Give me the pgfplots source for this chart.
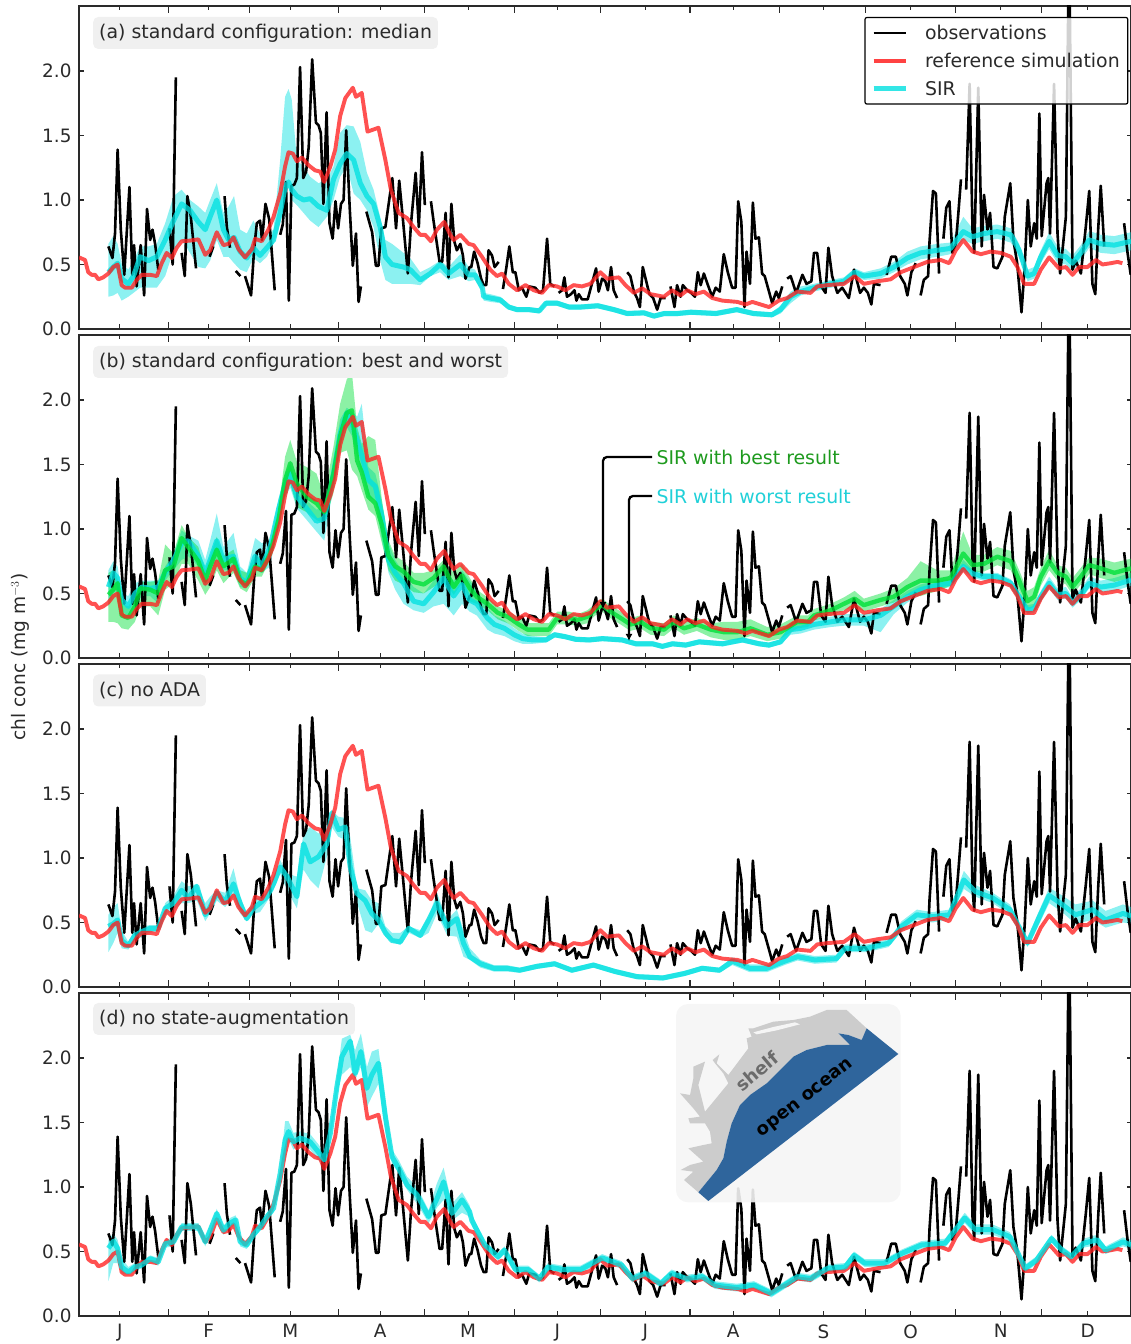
\documentclass[border=0pt]{standalone}
\usepackage{fontspec}
\setmainfont{DejaVu Sans}
\usepackage{pgfplots}
\usepackage{pgfplotstable}
\pgfplotsset{compat=1.18}
\usepgfplotslibrary{fillbetween}
\usetikzlibrary{arrows.meta}
\definecolor{sircyan}{HTML}{00E0E0}
\definecolor{sirgreen}{HTML}{00E038}
\definecolor{refred}{HTML}{FF2020}
\definecolor{ink}{HTML}{2A2A2A}
\definecolor{lab}{HTML}{F0F0F0}
\definecolor{oceanblue}{HTML}{2F659C}
\definecolor{txtgreen}{HTML}{1E9A1E}
\definecolor{txtcyan}{HTML}{20D0D8}
\pgfplotstableread{
d v
10.2 .64
11.6 .55
12.5 .74
13.4 1.39
14.5 .77
15.7 .42
17.5 1.10
18.5 .42
19.1 .65
20.0 .33
21.4 .65
22.6 .26
23.6 .93
24.7 .69
25.5 .77
26.4 .66
27.5 .46
28 nan
31.4 .78
32.5 .50
33.6 1.95
34.5 nan
35.6 .59
36.7 .41
37.6 1.03
38.8 .87
40.6 .47
42 nan
45.3 .56
46.6 .64
48 nan
50.5 1.03
51.3 .79
52.4 .63
53 nan
54.4 .45
56.0 .41
56.8 nan
57.6 .41
59.7 .26
60.8 .63
61.7 .82
62.8 .84
63.5 .69
64.7 .97
66 .85
66.9 .59
67.9 .30
68.5 nan
69.8 .73
70.7 .81
71.8 1.14
72.8 .22
73.7 1.11
74.7 1.12
75.6 1.17
76.7 2.03
77.8 1.17
78.8 1.22
79.7 1.41
80.9 2.09
82.2 1.60
83.1 1.58
83.9 1.52
84.8 .97
85.9 1.68
86.9 .82
88 .70
89 .99
89.9 .78
90.9 .97
91.8 1.0
92.7 1.54
93.9 .95
95 .49
96.1 .74
97 .21
97.8 .33
98.5 nan
99.7 .91
100.7 .83
101.7 .75
103 .49
103.9 .49
104.9 .78
106.3 .79
108.7 1.17
110 .78
111.1 1.15
112.3 .87
114.1 .43
115.2 .82
116.8 1.21
117.9 .79
119 1.37
120 .96
121 nan
122.1 .99
123 .84
125.1 .52
126 .52
127.2 .90
128.2 .40
129.2 .97
130.2 .68
131.1 .61
132.3 .66
133.2 .57
134.1 .39
135.5 .48
136.1 .48
137.1 .60
138.3 .51
139.5 .39
140.4 .34
141.3 .34
142.1 .61
143.3 .57
144.2 .48
145.6 .52
146.3 nan
147.1 .31
148.3 .48
149.3 .64
150.5 .44
151.4 .44
152.6 .30
153.7 .32
155.2 .25
156.2 .33
158.3 .32
159.8 .28
161 .30
162.4 .70
163.5 .35
164.9 .33
165.6 nan
166.4 .28
167.6 .30
168.4 .40
169.3 .25
170.7 .27
171.9 .30
172.6 .22
173.4 .27
174.5 .23
176.5 .23
177.7 .33
179.4 .47
180.3 .29
181.5 .39
182.6 .37
183.5 .30
184.6 .48
185.5 .30
186.7 .24
188 nan
190.2 .44
191.3 .41
192.5 .29
193.6 .24
194.6 .17
195.6 .48
196.8 .37
197.9 .27
199.2 .24
200.6 .15
201.8 .24
203.5 .24
204.3 nan
205.2 .33
206.6 .17
207.5 .34
208.7 .25
209.5 .34
211 .30
212.4 .28
213.7 .25
214.7 .44
215.7 .34
216.8 .43
218.2 .34
219.7 .25
220.9 .32
222.3 .29
223.7 .58
225.1 .44
226.6 .32
227.8 .32
228.7 .99
229.8 .83
230.9 .17
231.6 .60
232.8 .35
233.8 .98
234.7 .70
235.9 .71
237 .43
237.9 .41
239.4 .29
240.5 .20
241.9 .29
242.8 .24
244 .33
244.8 nan
245.7 .39
246.9 .41
248.8 .28
251 .42
252.4 .35
254.1 .37
255 .59
256.1 .59
257.5 .33
259 .28
260 .63
261.3 .41
263.1 .28
264.8 .32
267.1 .24
268.9 .46
271 .28
272.3 .32
273.7 .28
274.9 .19
275.8 .35
278.1 .34
279 nan
280.2 .42
281.8 .56
283.4 .56
284.9 .41
286.5 .35
287.4 .26
288.8 .44
290.3 .51
291 nan
292 .26
293.1 .38
294.6 .41
295.1 .68
296.3 1.07
297.3 1.05
298.4 .43
299 nan
299.9 .70
300.9 .94
302 .99
303.0 .59
304.2 .66
305.1 .90
306 1.16
307 nan
307.8 1.08
309 1.90
310 .77
310.6 .59
312 1.87
313.2 .64
314 1.04
315.2 .77
316.1 .90
317.3 .48
318.6 .47
320.4 .56
321.2 .87
323.1 1.13
324.2 .69
325.5 .51
327 .13
328.1 .48
329.2 1.0
330.2 .64
331.4 .82
332.3 .70
333.2 1.67
334 .72
335.7 1.13
336.3 1.17
336.9 .74
338.3 1.90
339.5 .74
340.4 .43
342.4 .87
343.5 3.07
344.7 .46
345.8 .53
347.6 .43
349.3 .79
350.5 1.07
351.6 .35
352.6 .27
353.6 .77
354.5 1.11
355.7 .64
358 nan
362.6 .82
363.8 .59
364.9 .42
}\obsdata
\pgfplotstableread{
d v
0 .555
2.1 .535
3.2 .44
4.4 .42
5.6 .42
6.7 .385
8.4 .40
10.2 .43
11.9 .48
13.4 .50
14.8 .34
16 .32
18.3 .32
20 .38
21.8 .42
24.7 .42
27 .41
28.7 .51
30.4 .59
32.2 .55
33.9 .63
35.6 .68
38.5 .685
41.4 .695
43.8 .575
45.5 .61
47.8 .75
50.1 .65
51.9 .66
53.6 .71
55.3 .62
57.6 .555
60 .62
61.1 .70
63.4 .68
65.7 .77
67.5 .87
69.8 1.05
71.5 1.26
72.7 1.37
74.2 1.36
75.6 1.30
77.3 1.33
79.6 1.27
81.9 1.23
83.7 1.22
85.1 1.14
87.2 1.26
88.9 1.39
90.6 1.65
92.4 1.79
95 1.87
96.1 1.80
98.1 1.83
100.1 1.53
103.9 1.56
106.3 1.31
108.2 1.08
110.9 .90
113.8 .86
116.1 .79
118.4 .73
120.1 .73
122.1 .68
124.2 .77
126.7 .83
128.8 .73
130 .69
132.3 .73
135.2 .66
136.9 .65
139.8 .56
142.7 .46
145 .41
146.8 .43
149.1 .35
152 .30
154.9 .34
157.8 .30
160.7 .28
163 .34
165.9 .33
168.7 .30
171.6 .34
174.5 .33
177.4 .35
180.9 .44
183.2 .39
187.3 .40
189.6 .34
192.5 .28
195.4 .315
198.3 .27
202.9 .25
205.8 .30
208.7 .26
211 .30
213.9 .27
216.8 .29
219.7 .24
223.2 .22
228.4 .21
231.3 .19
233.6 .21
239.4 .17
242.8 .22
245.7 .24
249.2 .29
253.8 .28
256.1 .33
259.6 .34
265.4 .35
269.1 .41
272.3 .35
277 .37
281.6 .385
285.1 .44
289.7 .48
294.3 .52
299 .535
301.9 .51
304.2 .61
306.8 .69
310 .60
312.9 .58
316.3 .60
319.8 .59
323.3 .56
325.6 .48
327.9 .35
331.4 .35
333.7 .46
336.6 .555
340 .47
342.4 .48
344.7 .42
347 .48
349.9 .48
352.8 .535
355.1 .50
358 .51
360.3 .52
362 .51
}\refdata
\pgfplotstableread{
d lo med hi
10.2 .25 .44 .66
11.9 .26 .48 .72
13.4 .28 .51 .66
14.8 .22 .39 .51
17.1 .25 .35 .46
18.9 .28 .41 .53
21.2 .32 .56 .64
24.1 .32 .53 .64
27 .32 .56 .66
29.9 .41 .69 .82
32.8 .61 .84 1.03
35.6 .69 .97 1.08
38.5 .59 .92 1.0
41.4 .48 .83 .95
43.8 .47 .77 .90
45.5 .53 .87 1.0
47.8 .69 1.0 1.13
50.1 .56 .77 .90
51.9 .56 .69 .95
53.8 .51 .71 1.03
55.9 .46 .60 .77
58.2 .44 .55 .74
60.5 .55 .63 .84
62.8 .51 .57 .74
65.2 .56 .63 .74
67.5 .66 .69 .77
69.8 .82 .90 1.31
71.5 1.03 1.10 1.80
72.7 1.10 1.14 1.86
73.8 1.0 1.08 1.78
75.6 .96 1.03 1.31
77.9 .90 1.0 1.26
80.2 .84 1.01 1.18
83.1 .79 .95 1.13
86 .87 .92 1.16
88.3 1.0 1.16 1.26
90.6 1.18 1.28 1.52
92.9 1.26 1.36 1.58
95.3 1.05 1.31 1.57
97.6 1.0 1.13 1.45
99.9 .92 1.03 1.21
102.2 .79 .97 1.08
104.5 .53 .79 .87
106.3 .38 .56 .69
108.6 .35 .50 .66
112.6 .35 .48 .59
114.9 .35 .46 .55
118.4 .34 .38 .44
121.9 .41 .43 .48
125.3 .44 .50 .53
128.2 .38 .43 .48
132.3 .41 .50 .58
135.2 .37 .42 .48
137.4 .38 .42 .46
140 .29 .315 .34
140.4 .22 .25 .28
142.7 .21 .24 .27
146.2 .20 .225 .25
149.1 .15 .17 .19
152 .13 .15 .17
156.2 .13 .15 .17
159.7 .12 .14 .16
162 .18 .20 .22
165.9 .18 .20 .22
170 .15 .17 .19
174 .15 .17 .19
180 .16 .18 .20
185.6 .13 .15 .17
190.2 .10 .12 .14
196 .105 .125 .145
199.5 .08 .10 .12
203.1 .10 .12 .14
207.7 .10 .12 .14
212.3 .11 .13 .15
221 .10 .12 .14
228.2 .13 .15 .17
234 .10 .12 .14
240.4 .09 .11 .13
243.4 .12 .15 .18
246.9 .20 .25 .29
250.4 .26 .29 .33
255 .29 .32 .35
260.8 .32 .35 .38
265.4 .34 .37 .40
269.1 .41 .44 .47
272.3 .38 .41 .44
278.1 .39 .43 .47
282.7 .44 .48 .52
287.4 .50 .55 .60
292 .54 .59 .64
297.8 .56 .61 .66
302.4 .58 .625 .67
306.8 .69 .755 .87
310 .66 .715 .78
314 .68 .74 .80
318.6 .70 .755 .81
323.3 .67 .73 .78
326.2 .56 .61 .66
329.1 .37 .41 .46
331.4 .39 .43 .48
333.7 .51 .56 .61
336.6 .62 .68 .75
339.5 .51 .57 .64
342.4 .50 .56 .62
344.7 .45 .51 .57
347.6 .53 .59 .65
350.5 .63 .69 .76
354.5 .59 .66 .73
359.2 .58 .65 .72
365 .61 .68 .75
}\sira
\pgfplotstableread{
d lo med hi
10.2 .28 .49 .66
11.9 .28 .53 .68
13.4 .27 .58 .61
14.8 .23 .33 .42
17.1 .22 .31 .40
19.4 .28 .40 .48
21.2 .40 .54 .59
24.7 .40 .53 .59
27.5 .33 .50 .60
29.9 .53 .68 .88
32.8 .58 .71 .81
35.6 .73 .93 1.03
37.9 .73 .86 .94
41.4 .60 .75 .86
43.8 .49 .60 .68
45.5 .55 .71 .79
47.8 .68 .84 .94
50.1 .58 .71 .79
53.6 .66 .77 .84
55.9 .54 .60 .68
58.2 .51 .57 .66
61.1 .63 .71 .79
63.4 .63 .68 .76
66.3 .76 .81 .86
69.2 1.02 1.07 1.15
71.5 1.25 1.38 1.56
73.3 1.35 1.51 1.69
75.6 1.17 1.35 1.52
79 1.13 1.25 1.48
82.4 1.07 1.20 1.43
85.1 1.04 1.13 1.25
88.3 1.28 1.43 1.64
90.6 1.59 1.72 1.97
92.9 1.61 1.90 2.16
94.7 1.46 1.92 2.21
96.5 1.41 1.53 1.79
98.1 1.30 1.44 1.66
100.4 1.15 1.25 1.72
102.8 1.10 1.20 1.69
105.1 .89 1.03 1.22
107.4 .68 .79 .91
109.7 .60 .71 .79
112.6 .57 .67 .75
116.1 .51 .59 .66
119.6 .50 .57 .66
123 .55 .62 .68
126.5 .60 .71 .76
130 .49 .55 .66
132.9 .58 .64 .73
135.6 .44 .54 .62
138 .42 .475 .53
141.7 .37 .42 .47
145.3 .30 .35 .40
148.7 .27 .32 .37
152.6 .21 .26 .31
155.6 .17 .22 .27
159.6 .17 .22 .27
163 .17 .22 .27
165.9 .26 .31 .36
170 .26 .31 .36
173 .25 .295 .34
176.4 .27 .32 .37
179.6 .34 .385 .43
181.5 .36 .41 .46
184.4 .31 .36 .41
187.9 .26 .31 .36
191.3 .21 .26 .31
194.8 .23 .28 .33
198.3 .18 .23 .28
203 .17 .22 .27
206.4 .23 .28 .33
209.9 .18 .23 .28
214.4 .21 .26 .31
219.2 .16 .22 .27
223.8 .14 .20 .28
228.4 .14 .20 .28
233 .17 .23 .30
238.8 .13 .18 .24
243.4 .15 .20 .26
249.2 .23 .28 .33
252.9 .24 .28 .33
255 .29 .33 .38
260.8 .33 .37 .42
265.4 .37 .42 .47
269.1 .40 .46 .52
272.3 .36 .41 .46
278.1 .40 .45 .50
282.7 .43 .475 .54
287.4 .49 .55 .62
292 .48 .60 .75
297.8 .52 .60 .68
302.4 .56 .62 .68
306.8 .72 .81 .98
310 .66 .72 .80
314 .67 .73 .80
318.6 .72 .785 .86
323.3 .68 .75 .83
326.2 .52 .60 .68
329.1 .37 .44 .52
331.4 .40 .475 .55
333.7 .56 .63 .70
336.6 .68 .75 .84
339.5 .60 .66 .72
342.4 .57 .63 .70
344.7 .49 .55 .62
347.6 .57 .63 .70
350.5 .65 .72 .78
354.5 .62 .695 .77
359.2 .59 .66 .74
365 .62 .695 .77
}\sirbbest
\pgfplotstableread{
d lo med hi
10.2 .40 .55 .68
11.9 .50 .66 .75
13.4 .53 .62 .71
14.8 .37 .45 .50
17.1 .32 .40 .48
19.4 .40 .50 .58
21.8 .48 .55 .60
24.7 .48 .54 .60
27.5 .42 .55 .60
29.9 .60 .66 .71
32.8 .68 .76 .81
35.6 .76 .89 .99
37.9 .79 .91 .95
41.4 .71 .79 .91
43.8 .55 .66 .76
45.5 .66 .76 .91
47.8 .76 .91 1.12
50.1 .68 .76 .86
53.6 .68 .79 .97
55.9 .55 .62 .71
58.2 .54 .58 .66
61.1 .68 .79 .93
63.4 .66 .71 .89
66.3 .71 .86 .91
69.2 1.04 1.15 1.23
71.5 1.25 1.35 1.43
73.3 1.32 1.43 1.51
75.6 1.16 1.25 1.33
79 1.07 1.16 1.22
82.4 .98 1.06 1.15
85.1 .91 1.08 1.17
88.3 1.33 1.43 1.53
90.6 1.64 1.74 1.85
92.9 1.79 1.90 1.94
94.7 1.72 1.82 1.91
96.5 1.56 1.69 1.87
98.1 1.43 1.57 1.97
100.4 1.25 1.38 1.48
102.8 1.22 1.33 1.43
105.1 .91 1.10 1.22
107.4 .66 .76 .89
109.7 .53 .66 .76
112.6 .42 .58 .66
116.1 .37 .44 .55
119.6 .35 .42 .50
123 .40 .51 .60
126.5 .42 .62 .68
130 .33 .48 .60
132.9 .42 .57 .68
135.5 .36 .45 .60
138 .33 .42 .53
141.7 .22 .31 .39
144.1 .19 .26 .33
147.6 .17 .23 .29
151 .13 .18 .23
153.9 .11 .15 .19
157.4 .11 .14 .17
162 .12 .14 .16
165 .16 .18 .20
168.7 .145 .165 .185
172.3 .125 .145 .165
177 .12 .14 .16
181.6 .13 .15 .17
188.4 .12 .14 .16
193.2 .09 .11 .13
199 .09 .11 .13
202.4 .07 .09 .11
205.9 .09 .11 .13
210.5 .08 .10 .12
215.2 .105 .125 .145
223.3 .09 .11 .13
230.2 .12 .14 .16
236 .09 .11 .13
239.4 .08 .10 .12
243.4 .105 .125 .145
246.9 .18 .22 .26
250.4 .19 .23 .28
255 .22 .26 .30
260.8 .24 .28 .32
265.4 .25 .295 .34
272.3 .25 .295 .34
278.1 .20 .33 .38
282.7 .34 .40 .45
287.4 .43 .475 .52
292 .49 .53 .57
297.8 .53 .565 .60
302.4 .55 .58 .61
306.8 .67 .71 .76
310 .62 .655 .69
314 .60 .63 .66
318.6 .60 .63 .66
323.3 .55 .58 .61
326.2 .44 .475 .51
329.1 .34 .37 .41
331.4 .35 .385 .42
333.7 .44 .475 .52
336.6 .54 .58 .63
339.5 .45 .49 .54
342.4 .46 .50 .55
344.7 .39 .425 .47
347.6 .45 .49 .54
350.5 .54 .58 .63
354.5 .51 .55 .60
359.2 .52 .565 .62
365 .56 .605 .66
}\sirbworst
\pgfplotstableread{
d lo med hi
10.2 .27 .47 .56
11.9 .34 .49 .62
13.4 .42 .52 .65
14.8 .30 .36 .44
17.1 .29 .32 .35
19.4 .36 .40 .45
21.8 .39 .43 .47
24.7 .42 .455 .48
27.5 .43 .455 .48
29.9 .56 .61 .65
32.8 .60 .65 .71
35.6 .65 .75 .82
37.9 .65 .69 .78
40.9 .67 .78 .80
43.8 .51 .56 .65
45.5 .57 .62 .70
47.8 .67 .73 .75
50.7 .62 .66 .73
53.6 .70 .80 .92
55.9 .57 .65 .70
58.2 .51 .53 .57
60.5 .57 .61 .67
62.8 .58 .65 .70
65.2 .66 .70 .73
67.5 .75 .80 .855
69.8 .88 .93 .985
72.2 .75 .855 .88
75.6 .61 .70 .855
77.9 .91 1.11 1.19
80.2 .83 .97 1.24
83.1 .765 1.01 1.19
86 1.01 1.11 1.24
87.7 1.24 1.35 1.37
90 1.165 1.22 1.32
92.4 1.14 1.24 1.31
94.1 .83 .93 1.165
96.5 .65 .725 .765
99.3 .44 .67 .75
101.6 .42 .57 .67
103.9 .49 .52 .65
106.3 .39 .42 .47
108.6 .35 .36 .42
111.5 .325 .35 .42
114.4 .42 .455 .47
118.4 .38 .40 .44
121.3 .42 .52 .545
124.2 .57 .65 .73
127.7 .40 .47 .52
131.1 .39 .53 .60
133.4 .235 .34 .44
135.6 .21 .235 .30
139.3 .15 .18 .21
143.9 .12 .145 .17
148.4 .12 .145 .17
152.9 .11 .13 .15
158.9 .14 .16 .18
165 .16 .18 .20
171 .11 .13 .15
178.5 .15 .17 .19
186 .10 .12 .14
193.6 .06 .08 .10
202.6 .05 .07 .09
210.1 .085 .105 .125
216.2 .125 .145 .165
222.2 .11 .13 .15
226.7 .17 .20 .23
232.7 .115 .145 .175
238.7 .115 .145 .175
244.8 .17 .20 .23
249.3 .205 .235 .265
255.3 .18 .21 .24
262.8 .19 .22 .25
265.8 .27 .30 .33
273.4 .27 .30 .33
280.9 .31 .34 .37
285.4 .43 .47 .51
290.7 .52 .56 .60
296 .50 .545 .58
302 .52 .56 .60
307 .76 .83 .90
311 .70 .74 .79
317 .65 .69 .73
323 .56 .60 .64
329.1 .31 .34 .37
332.1 .44 .49 .54
336.6 .65 .71 .77
341.1 .58 .64 .71
345.7 .49 .56 .64
351.7 .52 .60 .67
356.2 .46 .52 .59
362.2 .50 .57 .64
365 .49 .55 .62
}\sirc
\pgfplotstableread{
d lo med hi
10.2 .27 .525 .59
11.9 .41 .58 .64
13.4 .41 .525 .59
14.8 .33 .38 .45
17.1 .32 .34 .38
19.4 .35 .38 .41
21.8 .37 .395 .42
24.7 .42 .445 .47
27.5 .39 .42 .45
29.9 .53 .56 .59
32.8 .54 .575 .61
35.6 .66 .69 .72
38.5 .66 .69 .72
41.4 .66 .69 .72
43.8 .54 .575 .61
45.5 .63 .665 .70
47.8 .76 .795 .83
50.1 .63 .665 .70
52.4 .68 .72 .76
54.4 .71 .745 .78
55.9 .54 .575 .61
58.2 .52 .55 .58
60.5 .60 .63 .66
62.8 .66 .69 .72
65.2 .74 .77 .80
67.5 .80 .835 .87
69.8 1.06 1.105 1.15
71.5 1.21 1.365 1.51
72.7 1.37 1.43 1.51
74.4 1.29 1.35 1.42
76.7 1.33 1.38 1.43
80.2 1.29 1.35 1.41
83.1 1.21 1.27 1.33
85.1 1.16 1.21 1.26
87.2 1.36 1.415 1.47
89.5 1.72 1.78 1.85
91.2 1.87 2.01 2.15
94.1 1.93 2.13 2.18
95.8 1.83 1.88 2.06
97.8 1.93 2.05 2.19
99.9 1.62 1.765 1.93
101.6 1.70 1.87 2.05
103.9 1.80 1.96 2.07
106.3 1.42 1.545 1.67
108.6 1.18 1.235 1.29
110.9 1.11 1.145 1.21
113.8 .98 1.015 1.08
117.3 .87 .94 1.0
121.3 .72 .77 .82
124.2 .84 .91 1.03
126.5 .90 1.04 1.15
129.4 .74 .795 .87
132.9 .80 .90 .96
135.5 .77 .81 .86
136.3 .70 .74 .79
140.8 .52 .55 .58
145.4 .43 .46 .49
147.6 .48 .51 .54
151.4 .33 .36 .39
155.9 .33 .36 .39
159.7 .26 .29 .32
162.7 .35 .38 .41
168 .33 .36 .39
174 .33 .36 .39
181.5 .42 .45 .48
188.3 .365 .395 .425
192 .26 .29 .32
196.6 .30 .33 .36
201.8 .22 .25 .28
205.6 .30 .33 .36
210.9 .26 .29 .32
216.2 .275 .305 .335
220.7 .21 .24 .27
228.2 .19 .22 .25
234.2 .21 .24 .27
240.2 .145 .175 .205
244.8 .21 .24 .27
249.3 .275 .305 .335
253.8 .26 .29 .32
259.8 .34 .37 .40
265.8 .35 .38 .41
268.9 .44 .47 .50
272.6 .38 .41 .44
279.4 .38 .41 .44
285.4 .455 .485 .515
292.2 .52 .55 .58
300.5 .53 .565 .60
307.3 .72 .76 .80
311 .63 .67 .71
317 .63 .67 .71
323 .58 .615 .65
328.3 .34 .37 .40
332.1 .40 .43 .46
337.4 .57 .60 .63
341.1 .48 .51 .54
344.2 .43 .46 .49
348.7 .53 .565 .60
353.2 .55 .59 .63
356.2 .48 .51 .54
362.2 .54 .575 .61
365 .52 .55 .59
}\sird
\pgfplotsset{
 panel/.style={
  scale only axis, width=1052pt, height=323pt,
  xmin=0, xmax=365, ymin=0, ymax=2.504,
  unbounded coords=jump, clip=true,
  axis line style={ink, line width=1.5pt},
  tick style={ink, line width=1.1pt},
  tick align=inside,
  xtick={14.2,45,73.3,104.5,135,166,196.5,227,258.3,288.5,319.8,350},
  minor xtick={31,59,90,120,151,181,212,243,273,304,334},
  major tick length=4.5pt, minor tick length=7pt,
  xticklabels={},
  ytick={0,0.5,1,1.5,2},
  /pgf/number format/fixed, /pgf/number format/fixed zerofill, /pgf/number format/precision=1, /pgf/number format/assume math mode=true,
  every tick label/.append style={font=\fontsize{18.4}{20}\selectfont, text=ink},
  y tick label style={xshift=-4pt},
 },
 obs/.style={black, line width=2.6pt, line join=round, forget plot},
 rf/.style={refred, opacity=.78, line width=3.9pt, line join=round, forget plot},
 sir/.style={sircyan, opacity=.78, line width=5pt, line join=round, forget plot},
 best/.style={sirgreen, opacity=.8, line width=4.4pt, line join=round, forget plot},
}
\newcommand{\band}[4]{%
 \addplot[draw=none, name path=hi#4, forget plot] table[x=d,y=hi]{#1};
 \addplot[draw=none, name path=lo#4, forget plot] table[x=d,y=lo]{#1};
 \addplot[fill=#2, fill opacity=#3, draw=none, forget plot] fill between[of=hi#4 and lo#4];
}
\newcommand{\paneltag}[3]{%
 \node[anchor=west, fill=lab, rounded corners=5pt, minimum height=32pt, inner xsep=6pt, inner ysep=0pt,
  text=ink, font=\fontsize{18.9}{22}\selectfont] at (#1pt,#2pt) {#3};}
\begin{document}
\begin{tikzpicture}[x=1pt,y=1pt]
\begin{axis}[panel, at={(79pt,1015pt)}, anchor=south west,
 legend cell align=left,
 legend style={at={(0.9975,0.9664)}, anchor=north east, draw=black, line width=1.2pt, rounded corners=2pt,
   fill=white, fill opacity=.82, draw opacity=1, text opacity=1, text=ink,
   font=\fontsize{18.9}{22}\selectfont, inner xsep=6pt, inner ysep=5.5pt,
   row sep=8.2pt, /tikz/every even column/.append style={column sep=0pt}},
 legend image code/.code={\draw[#1] (0pt,0pt) -- (32pt,0pt);},
]
\addlegendimage{black, line width=2.6pt}
\addlegendentry{\hspace{15pt}observations}
\addlegendimage{refred!85, line width=3.9pt}
\addlegendentry{\hspace{15pt}reference simulation}
\addlegendimage{sircyan!80, line width=5pt}
\addlegendentry{\hspace{15pt}SIR}
\addplot[obs] table[x=d,y=v]{\obsdata};
\band{\sira}{sircyan}{.45}{a}
\addplot[sir] table[x=d,y=med]{\sira};
\addplot[rf] table[x=d,y=v]{\refdata};
\end{axis}
\begin{axis}[panel, at={(79pt,686pt)}, anchor=south west]
\addplot[obs] table[x=d,y=v]{\obsdata};
\band{\sirbworst}{sircyan}{.45}{bw}
\addplot[sir] table[x=d,y=med]{\sirbworst};
\band{\sirbbest}{sirgreen}{.45}{bb}
\addplot[best] table[x=d,y=med]{\sirbbest};
\addplot[rf] table[x=d,y=v]{\refdata};
\end{axis}
\begin{axis}[panel, at={(79pt,357pt)}, anchor=south west]
\addplot[obs] table[x=d,y=v]{\obsdata};
\band{\sirc}{sircyan}{.45}{c}
\addplot[sir] table[x=d,y=med]{\sirc};
\addplot[rf] table[x=d,y=v]{\refdata};
\end{axis}
\begin{axis}[panel, at={(79pt,28pt)}, anchor=south west,
 xticklabels={J,F,M,A,M,J,J,A,S,O,N,D},
 x tick label style={yshift=-5pt},
]
\addplot[obs] table[x=d,y=v]{\obsdata};
\addplot[rf] table[x=d,y=v]{\refdata};
\band{\sird}{sircyan}{.45}{d}
\addplot[sir] table[x=d,y=med]{\sird};
\end{axis}
% panel tags
\paneltag{93}{1311}{(a) standard configuration: median}
\paneltag{93}{982}{(b) standard configuration: best and worst}
\paneltag{93}{653.5}{(c) no ADA}
\paneltag{93}{325}{(d) no state-augmentation}
% y label
\node[rotate=90, text=ink, font=\fontsize{18.6}{20}\selectfont] at (20pt,687pt) {chl conc (mg m$^{-3}$)};
% annotation in (b)
\draw[black, line width=2.3pt, rounded corners=4pt, -{Latex[length=7pt,width=7pt]}] (652pt,887pt) -- (603pt,887pt) -- (603pt,735pt);
\draw[black, line width=2.3pt, rounded corners=4pt, -{Latex[length=7pt,width=7pt]}] (652pt,848pt) -- (629pt,848pt) -- (629pt,703pt);
\node[anchor=west, text=txtgreen, font=\fontsize{18.9}{22}\selectfont] at (653pt,887pt) {SIR with best result};
\node[anchor=west, text=txtcyan, font=\fontsize{18.9}{22}\selectfont] at (653pt,848pt) {SIR with worst result};
% inset map
\begin{scope}[x=0.33333pt,y=-0.33333pt,shift={(660pt,349pt)}]
\fill[black!4, opacity=.9, rounded corners=12pt] (48,27) rectangle (722,622);
\fill[black!20] (115,592) -- (72,555) -- (100,530) -- (62,525) -- (90,510) -- (130,500) -- (85,460) -- (130,450) -- (155,445) -- (150,410) -- (135,385) -- (90,385) -- (85,370) -- (120,365) -- (100,340) -- (60,295) -- (90,300) -- (100,250) -- (100,215) -- (135,200) -- (115,270) -- (135,350) -- (160,320) -- (205,265) -- (190,235) -- (165,205) -- (158,195) -- (178,178) -- (170,205) -- (205,240) -- (235,200) -- (265,160) -- (260,130) -- (275,125) -- (265,100) -- (280,100) -- (340,80) -- (400,75) -- (450,65) -- (500,45) -- (560,45) -- (620,100) -- (605,135) -- (565,120) -- (535,115) -- (570,150) -- (500,150) -- (440,165) -- (400,185) -- (360,225) -- (320,265) -- (270,300) -- (240,330) -- (215,385) -- (200,440) -- (190,490) -- (170,525) -- cycle;
\fill[black!4] (280,112) -- (340,96) -- (405,82) -- (420,88) -- (350,106) -- (290,118) -- cycle;
\fill[oceanblue] (115,592) -- (170,525) -- (190,490) -- (200,440) -- (215,385) -- (240,330) -- (270,300) -- (320,265) -- (360,225) -- (400,185) -- (440,165) -- (500,150) -- (570,150) -- (535,115) -- (565,120) -- (605,135) -- (620,100) -- (715,177) -- (145,618) -- cycle;
\node[rotate=40, text=black!58, font=\bfseries\fontsize{18}{20}\selectfont] at (292,230) {shelf};
\node[rotate=38, text=black, font=\bfseries\fontsize{18}{20}\selectfont] at (437,312) {open ocean};
\end{scope}
\pgfresetboundingbox
\path[use as bounding box] (0pt,0pt) rectangle (1130pt,1344pt);
\end{tikzpicture}
\end{document}
